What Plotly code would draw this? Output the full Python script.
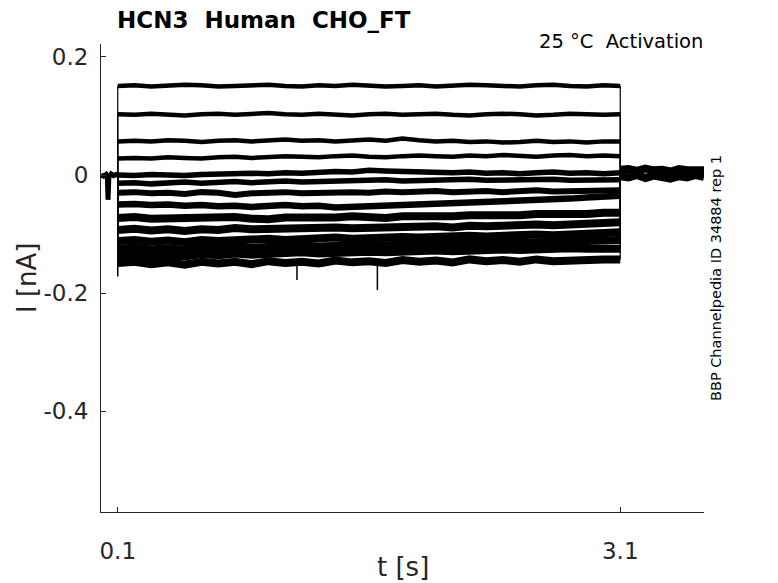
import plotly.graph_objects as go

# ---------------- data ----------------
T_STEP = [0.1, 0.2, 0.3, 0.4, 0.5, 0.6, 0.7, 0.8, 0.9, 1.0, 1.1, 1.2, 1.3, 1.4, 1.5, 1.6,
          1.7, 1.8, 1.9, 2.0, 2.1, 2.2, 2.3, 2.4, 2.5, 2.6, 2.7, 2.8, 2.9, 3.0, 3.1]

TRACES = [
    [0.151,0.152,0.150,0.151,0.153,0.152,0.150,0.151,0.152,0.153,0.151,0.150,0.152,0.151,0.153,0.152,0.150,0.151,0.152,0.150,0.151,0.153,0.152,0.151,0.150,0.152,0.153,0.151,0.150,0.152,0.151],
    [0.103,0.102,0.104,0.103,0.101,0.103,0.104,0.102,0.103,0.105,0.103,0.102,0.104,0.103,0.101,0.103,0.104,0.102,0.103,0.104,0.102,0.101,0.103,0.104,0.103,0.101,0.102,0.104,0.103,0.102,0.103],
    [0.057,0.058,0.057,0.059,0.058,0.056,0.058,0.059,0.057,0.058,0.060,0.058,0.059,0.057,0.059,0.060,0.058,0.062,0.059,0.057,0.058,0.056,0.057,0.055,0.056,0.058,0.056,0.057,0.055,0.057,0.057],
    [0.028,0.029,0.028,0.030,0.029,0.028,0.030,0.031,0.029,0.030,0.032,0.031,0.030,0.032,0.033,0.031,0.030,0.032,0.033,0.032,0.031,0.033,0.032,0.034,0.032,0.031,0.033,0.034,0.032,0.033,0.032],
    [0.000,-0.001,0.001,0.000,-0.001,0.001,0.002,0.001,0.003,0.002,0.004,0.003,0.005,0.006,0.005,0.008,0.007,0.006,0.007,0.005,0.004,0.005,0.003,0.004,0.002,0.004,0.005,0.003,0.004,0.002,0.004],
    [-0.014,-0.013,-0.015,-0.013,-0.012,-0.014,-0.012,-0.011,-0.013,-0.011,-0.010,-0.012,-0.011,-0.009,-0.010,-0.009,-0.008,-0.010,-0.009,-0.010,-0.008,-0.007,-0.009,-0.008,-0.007,-0.008,-0.007,-0.009,-0.008,-0.007,-0.008],
    [-0.030,-0.029,-0.031,-0.030,-0.032,-0.029,-0.030,-0.034,-0.031,-0.030,-0.029,-0.031,-0.030,-0.028,-0.029,-0.030,-0.028,-0.029,-0.028,-0.027,-0.029,-0.028,-0.027,-0.029,-0.027,-0.026,-0.028,-0.027,-0.026,-0.027,-0.026],
    [-0.050,-0.049,-0.051,-0.050,-0.052,-0.051,-0.053,-0.052,-0.054,-0.052,-0.051,-0.053,-0.052,-0.055,-0.054,-0.052,-0.053,-0.051,-0.050,-0.049,-0.048,-0.047,-0.046,-0.045,-0.044,-0.043,-0.041,-0.040,-0.038,-0.037,-0.035],
    [-0.073,-0.071,-0.074,-0.073,-0.075,-0.072,-0.073,-0.071,-0.074,-0.075,-0.072,-0.073,-0.071,-0.072,-0.070,-0.072,-0.073,-0.070,-0.071,-0.069,-0.070,-0.068,-0.069,-0.067,-0.068,-0.066,-0.067,-0.065,-0.066,-0.064,-0.064],
    [-0.093,-0.091,-0.094,-0.092,-0.095,-0.092,-0.093,-0.090,-0.092,-0.091,-0.093,-0.090,-0.091,-0.089,-0.090,-0.089,-0.091,-0.088,-0.089,-0.087,-0.089,-0.086,-0.087,-0.085,-0.086,-0.084,-0.085,-0.083,-0.084,-0.081,-0.080],
    [-0.112,-0.110,-0.113,-0.111,-0.114,-0.110,-0.112,-0.110,-0.111,-0.108,-0.110,-0.108,-0.109,-0.106,-0.108,-0.106,-0.107,-0.105,-0.106,-0.104,-0.105,-0.103,-0.104,-0.102,-0.103,-0.101,-0.102,-0.100,-0.100,-0.098,-0.097],
    [-0.125,-0.123,-0.126,-0.124,-0.127,-0.122,-0.124,-0.121,-0.123,-0.121,-0.122,-0.120,-0.121,-0.119,-0.120,-0.118,-0.119,-0.117,-0.118,-0.116,-0.117,-0.115,-0.116,-0.114,-0.115,-0.113,-0.114,-0.112,-0.112,-0.111,-0.110],
    [-0.137,-0.135,-0.139,-0.136,-0.138,-0.134,-0.136,-0.133,-0.135,-0.133,-0.134,-0.131,-0.133,-0.131,-0.132,-0.130,-0.131,-0.129,-0.130,-0.128,-0.129,-0.127,-0.128,-0.126,-0.127,-0.125,-0.126,-0.124,-0.125,-0.124,-0.125],
    [-0.149,-0.147,-0.151,-0.148,-0.152,-0.147,-0.150,-0.147,-0.151,-0.146,-0.149,-0.147,-0.150,-0.145,-0.148,-0.146,-0.149,-0.144,-0.147,-0.145,-0.148,-0.143,-0.146,-0.144,-0.147,-0.143,-0.146,-0.144,-0.145,-0.143,-0.143],
]

PRE_T = [0.0, 0.015, 0.03, 0.038, 0.042, 0.047, 0.06, 0.075, 0.09, 0.1]
PRE_V = [0.000, -0.002, 0.001, -0.004, -0.042, -0.003, 0.002, -0.001, 0.001, 0.000]

POST_T = [3.1, 3.15, 3.2, 3.25, 3.3, 3.35, 3.4, 3.45, 3.5, 3.55, 3.6]
POST_A = [0.009, 0.010, 0.007, 0.011, 0.008, 0.009, 0.006, 0.010, 0.008, 0.009, 0.008]
POST_B = [-0.002, -0.004, 0.000, -0.005, -0.001, -0.003, -0.006, -0.002, -0.004, 0.000, -0.003]

ONSET_T = [0.1, 0.1]
ONSET_V = [0.0, -0.172]

SPIKE_T = [1.17, 1.65]
SPIKE_BASE = [-0.150, -0.150]
SPIKE_PEAK = [-0.178, -0.195]

X_TICKS = [0.1, 3.1]
X_TICKTEXT = ["0.1", "3.1"]
Y_TICKS = [0.2, 0.0, -0.2, -0.4]
Y_TICKTEXT = ["0.2", "0", "-0.2", "-0.4"]

# ---------------- figure ----------------
fig = go.Figure()
line_w = [4.5, 4.5, 4.5, 4.5, 5.5, 5.5, 6, 6.5, 8, 8, 8, 8, 8, 8]
t0, t1 = T_STEP[0], T_STEP[-1]

for i, vals in enumerate(TRACES):
    fig.add_trace(go.Scatter(x=[t0, t0], y=[0.0, vals[0]], mode="lines",
                             line=dict(color="black", width=1.2),
                             hoverinfo="skip", showlegend=False))
    fig.add_trace(go.Scatter(x=[t1, t1], y=[vals[-1], POST_A[0]], mode="lines",
                             line=dict(color="black", width=1.2),
                             hoverinfo="skip", showlegend=False))
    fig.add_trace(go.Scatter(x=T_STEP, y=vals, mode="lines",
                             line=dict(color="black", width=line_w[i]),
                             hoverinfo="skip", showlegend=False))

fig.add_trace(go.Scatter(x=PRE_T, y=PRE_V, mode="lines",
                         line=dict(color="black", width=5), showlegend=False))
fig.add_trace(go.Scatter(x=POST_T, y=POST_A, mode="lines",
                         line=dict(color="black", width=8), showlegend=False))
fig.add_trace(go.Scatter(x=POST_T, y=POST_B, mode="lines",
                         line=dict(color="black", width=8), showlegend=False))
fig.add_trace(go.Scatter(x=ONSET_T, y=ONSET_V, mode="lines",
                         line=dict(color="black", width=1.5), showlegend=False))
for t, b, p in zip(SPIKE_T, SPIKE_BASE, SPIKE_PEAK):
    fig.add_trace(go.Scatter(x=[t, t], y=[b, p], mode="lines",
                             line=dict(color="black", width=1.5), showlegend=False))

axis_col = "#262626"
# page body has an 8 px default margin; margins below compensate for it
fig.update_layout(
    width=778, height=583,
    margin=dict(l=93, r=82, t=36, b=79, autoexpand=False),
    paper_bgcolor="white", plot_bgcolor="white",
    font=dict(family="DejaVu Sans", color=axis_col),
    xaxis=dict(range=[0.0, 3.6], tickvals=X_TICKS, ticktext=X_TICKTEXT,
               ticks="inside", ticklen=5, tickcolor=axis_col, showline=True,
               linecolor=axis_col, linewidth=1, showgrid=False, zeroline=False,
               automargin=False, ticklabelstandoff=18,
               tickfont=dict(size=23, color=axis_col)),
    yaxis=dict(range=[-0.571, 0.222], tickvals=Y_TICKS, ticktext=Y_TICKTEXT,
               ticks="inside", ticklen=5, tickcolor=axis_col, showline=True,
               linecolor=axis_col, linewidth=1, showgrid=False, zeroline=False,
               automargin=False, ticklabelstandoff=7,
               tickfont=dict(size=23, color=axis_col)),
    annotations=[
        dict(text="<b>HCN3  Human  CHO_FT</b>", xref="paper", yref="paper",
             x=(115 - 101) / 603, y=1 + 24 / 468, xanchor="left", yanchor="middle",
             showarrow=False, font=dict(size=23, color="black")),
        dict(text="25 °C  Activation", xref="paper", yref="paper",
             x=(705 - 101) / 603, y=1 + 3 / 468, xanchor="right", yanchor="middle",
             showarrow=False, font=dict(size=19.5, color="black")),
        dict(text="BBP Channelpedia ID 34884 rep 1", xref="paper", yref="paper",
             x=(716 - 101) / 603, y=(512 - 278) / 468, textangle=-90,
             xanchor="center", yanchor="middle",
             showarrow=False, font=dict(size=14.5, color="black")),
        dict(text="I [nA]", xref="paper", yref="paper",
             x=(27 - 101) / 603, y=(512 - 278) / 468, textangle=-90,
             xanchor="center", yanchor="middle",
             showarrow=False, font=dict(size=26, color=axis_col)),
        dict(text="t [s]", xref="paper", yref="paper",
             x=(403 - 101) / 603, y=-(567 - 512) / 468,
             xanchor="center", yanchor="middle",
             showarrow=False, font=dict(size=26, color=axis_col)),
    ],
)

fig.write_html("out.html")
